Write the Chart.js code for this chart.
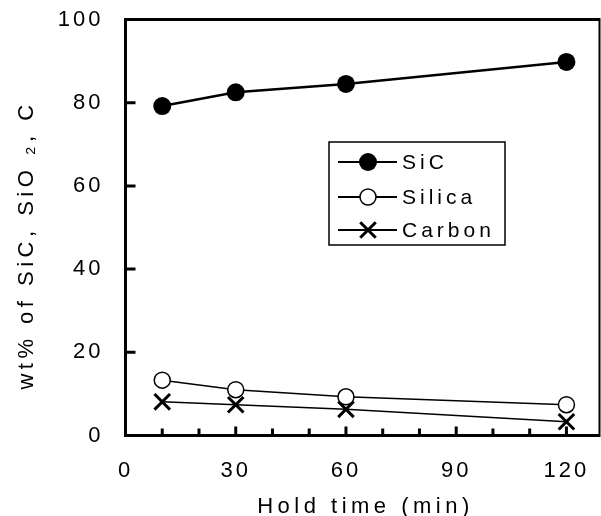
<!DOCTYPE html>
<html>
<head>
<meta charset="utf-8">
<script src="https://cdn.jsdelivr.net/npm/chart.js@4/dist/chart.umd.min.js"></script>
<style>
  html, body { margin: 0; padding: 0; background: #fff; }
  #wrap { width: 601px; height: 516px; }
</style>
</head>
<body>
<div id="wrap"><canvas id="c" width="601" height="516"></canvas></div>
<script>
// ---- data ----
const holdTimes = [10, 30, 60, 120];
const sicValues = [79.2, 82.5, 84.5, 89.8];
const silicaValues = [13.3, 11.0, 9.3, 7.4];
const carbonValues = [8.1, 7.4, 6.3, 3.3];
const seriesLabels = ['SiC', 'Silica', 'Carbon'];
const xTickLabels = [0, 30, 60, 90, 120];
const xMinorTicks = [10, 20, 30, 40, 50, 60, 70, 80, 90, 100, 110, 120];
const yTickLabels = [0, 20, 40, 60, 80, 100];
const xTitle = 'Hold time (min)';
const yTitle = 'wt% of SiC, SiO \u2082, C';

const FONT = '"Liberation Sans", Arial, sans-serif';

function pts(vals) { return holdTimes.map((x, i) => ({ x: x, y: vals[i] })); }

const spacingPlugin = {
  id: 'spacing',
  beforeInit(chart) { chart.ctx.letterSpacing = '3px'; },
  beforeLayout(chart) { chart.ctx.letterSpacing = '3px'; },
  afterLayout(chart) {
    // pin the plot area's right edge
    const a = chart.chartArea;
    const xs = chart.scales.x;
    a.right = chart.width - 1.5;
    a.width = a.right - a.left;
    xs.right = a.right;
    xs.width = a.width;
    xs.configure();
  },
  beforeDraw(chart) { chart.ctx.letterSpacing = '3px'; }
};

const framePlugin = {
  id: 'frame',
  afterDraw(chart) {
    const ctx = chart.ctx;
    const a = chart.chartArea;
    const xs = chart.scales.x, ys = chart.scales.y;
    ctx.save();
    ctx.strokeStyle = '#000';
    ctx.lineCap = 'butt';
    // frame
    ctx.lineWidth = 3;
    ctx.beginPath();
    ctx.moveTo(a.left, a.top); ctx.lineTo(a.left, a.bottom);
    ctx.moveTo(a.left - 1.5, a.bottom); ctx.lineTo(a.right, a.bottom);
    ctx.moveTo(a.left - 1.5, a.top); ctx.lineTo(a.right, a.top);
    ctx.stroke();
    ctx.lineWidth = 2;
    ctx.beginPath();
    ctx.moveTo(a.right, a.top - 1.5); ctx.lineTo(a.right, a.bottom + 1.5);
    ctx.stroke();
    // inward y ticks
    ctx.lineWidth = 3;
    ctx.beginPath();
    yTickLabels.forEach(v => {
      const p = ys.getPixelForValue(v);
      ctx.moveTo(a.left, p); ctx.lineTo(a.left + 10, p);
    });
    ctx.stroke();
    // inward x ticks
    ctx.lineWidth = 3;
    ctx.beginPath();
    xMinorTicks.forEach(v => {
      const p = xs.getPixelForValue(v);
      const len = (v % 30 === 0) ? 9 : 7;
      ctx.moveTo(p, a.bottom); ctx.lineTo(p, a.bottom - len);
    });
    ctx.stroke();

    // axis titles
    ctx.fillStyle = '#000';
    ctx.letterSpacing = '4.5px';
    ctx.font = '22px ' + FONT;
    ctx.textAlign = 'center';
    ctx.textBaseline = 'alphabetic';
    ctx.fillText(xTitle, (a.left + a.right) / 2 + 3, 513);
    ctx.save();
    ctx.translate(33, 245);
    ctx.rotate(-Math.PI / 2);
    ctx.fillText(yTitle, 0, 0);
    ctx.restore();

    // legend
    const box = { l: 329, t: 142, r: 505, b: 245 };
    ctx.lineWidth = 1.5;
    ctx.strokeRect(box.l, box.t, box.r - box.l, box.b - box.t);
    const rows = [162, 197, 230];
    ctx.font = '21px ' + FONT;
    ctx.letterSpacing = '4px';
    ctx.textAlign = 'left';
    ctx.textBaseline = 'middle';
    chart.data.datasets.forEach((ds, i) => {
      const y = rows[i];
      ctx.lineWidth = 2;
      ctx.strokeStyle = '#000';
      ctx.beginPath();
      ctx.moveTo(338, y); ctx.lineTo(397, y);
      ctx.stroke();
      const cx = 368;
      const r = ds.pointRadius;
      if (ds.pointStyle === 'crossRot') {
        ctx.lineWidth = ds.pointBorderWidth;
        const d = r * Math.SQRT1_2;
        ctx.beginPath();
        ctx.moveTo(cx - d, y - d); ctx.lineTo(cx + d, y + d);
        ctx.moveTo(cx + d, y - d); ctx.lineTo(cx - d, y + d);
        ctx.stroke();
      } else {
        ctx.beginPath();
        ctx.arc(cx, y, r, 0, Math.PI * 2);
        ctx.fillStyle = ds.pointBackgroundColor;
        ctx.fill();
        ctx.lineWidth = ds.pointBorderWidth;
        if (ds.pointBorderWidth > 0) ctx.stroke();
      }
      ctx.fillStyle = '#000';
      ctx.fillText(ds.label, 402, y + 1);
    });
    ctx.restore();
  }
};

new Chart(document.getElementById('c'), {
  type: 'line',
  data: {
    datasets: [
      {
        label: seriesLabels[0], data: pts(sicValues), order: 0,
        borderColor: '#000', borderWidth: 2.5, tension: 0,
        pointStyle: 'circle', pointRadius: 9, pointBackgroundColor: '#000',
        pointBorderColor: '#000', pointBorderWidth: 0
      },
      {
        label: seriesLabels[1], data: pts(silicaValues), order: 0,
        borderColor: '#000', borderWidth: 1.5, tension: 0,
        pointStyle: 'circle', pointRadius: 8, pointBackgroundColor: '#fff',
        pointBorderColor: '#000', pointBorderWidth: 1.5
      },
      {
        label: seriesLabels[2], data: pts(carbonValues), order: 1,
        borderColor: '#000', borderWidth: 1.5, tension: 0,
        pointStyle: 'crossRot', pointRadius: 11, pointBackgroundColor: '#000',
        pointBorderColor: '#000', pointBorderWidth: 3
      }
    ]
  },
  options: {
    responsive: false,
    animation: false,
    devicePixelRatio: 1,
    clip: false,
    layout: { padding: { top: 19.5, right: 1.5, left: 0, bottom: 0 } },
    plugins: { legend: { display: false }, tooltip: { enabled: false } },
    scales: {
      x: {
        type: 'linear', min: 0, max: 129,
        grid: { display: false, drawTicks: false },
        border: { display: false },
        afterFit(s) { s.height = 80.5; s.paddingLeft = 0; s.paddingRight = 0; },
        afterBuildTicks(s) { s.ticks = xTickLabels.map(v => ({ value: v })); },
        ticks: {
          autoSkip: false, maxRotation: 0, padding: 22, color: '#000',
          font: { family: FONT, size: 22 },
          callback: v => String(v)
        }
      },
      y: {
        type: 'linear', min: 0, max: 100,
        grid: { display: false, drawTicks: false },
        border: { display: false },
        afterFit(s) { s.width = 125.5; s.paddingTop = 0; s.paddingBottom = 0; },
        afterBuildTicks(s) { s.ticks = yTickLabels.map(v => ({ value: v })); },
        ticks: {
          padding: 22, color: '#000',
          font: { family: FONT, size: 22 },
          callback: v => String(v)
        }
      }
    }
  },
  plugins: [spacingPlugin, framePlugin]
});
</script>
</body>
</html>
